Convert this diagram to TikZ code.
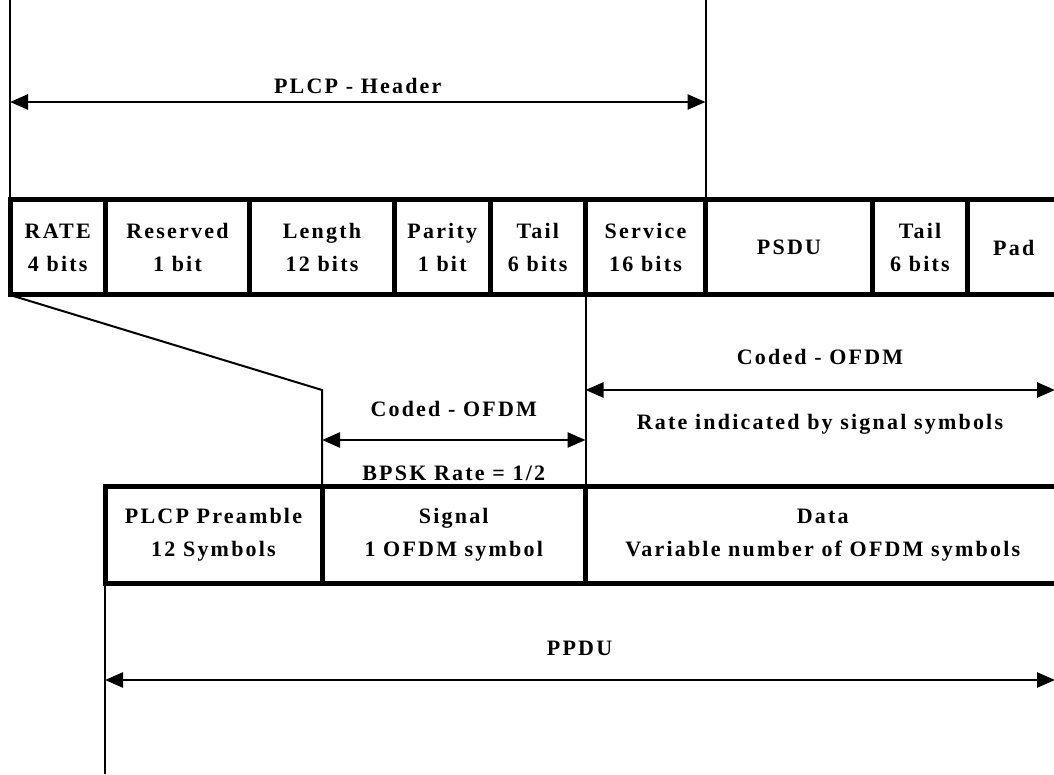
\documentclass[tikz,border=0pt]{standalone}
\usepackage{fontspec}
\setmainfont{Liberation Serif}[LetterSpace=10]
\usetikzlibrary{arrows.meta}

\newcommand{\fieldfont}{\fontsize{22}{33}\selectfont\bfseries}

\begin{document}
\begin{tikzpicture}[x=1pt,y=1pt,
  field/.style={draw=drawColor,line width=5pt,inner sep=0pt,outer sep=0pt,align=center,font=\fieldfont},
  toprow/.style={field,minimum height=95pt},
  lowrow/.style={field,minimum height=96pt},
  lbl/.style={text=drawColor,anchor=base,inner sep=0pt,outer sep=0pt,font=\fieldfont},
  marker/.style={draw=drawColor,line width=2pt},
  span/.style={draw=drawColor,line width=2.5pt,{Triangle[length=18pt,width=15pt]}-{Triangle[length=18pt,width=15pt]}}]
\definecolor{fillColor}{RGB}{255,255,255}
\definecolor{drawColor}{RGB}{0,0,0}
\path[use as bounding box,fill=fillColor] (0,0) rectangle (1054,774);
\begin{scope}
\path[clip] (0,0) rectangle (1054,774);

% PLCP header fields
\node[toprow,minimum width= 95.5pt] (rate)  at (  57.75,526.5) {RATE\\4 bits};
\node[toprow,minimum width=144.0pt] (rsvd)  at ( 177.50,526.5) {Reserved\\1 bit};
\node[toprow,minimum width=145.0pt] (len)   at ( 322.00,526.5) {Length\\12 bits};
\node[toprow,minimum width= 95.5pt] (par)   at ( 442.25,526.5) {Parity\\1 bit};
\node[toprow,minimum width= 95.5pt] (tail)  at ( 537.75,526.5) {Tail\\6 bits};
\node[toprow,minimum width=120.0pt] (svc)   at ( 645.50,526.5) {Service\\16 bits};
\node[toprow,minimum width=167.0pt] (psdu)  at ( 789.00,526.5) {PSDU};
\node[toprow,minimum width= 95.0pt] (tailb) at ( 920.00,526.5) {Tail\\6 bits};
\node[toprow,minimum width= 92.5pt] (pad)   at (1013.75,526.5) {Pad};

% PPDU fields
\node[lowrow,minimum width=217.0pt] (pre)  at (213.50,239) {PLCP Preamble\\12 Symbols};
\node[lowrow,minimum width=263.5pt] (sig)  at (453.75,239) {Signal\\1 OFDM symbol};
\node[lowrow,minimum width=474.5pt] (data) at (822.75,239) {Data\\Variable number of OFDM symbols};

% marker lines
\coordinate (hdrtopL) at (10,774);
\coordinate (hdrtopR) at (705.5,774);
\coordinate (bend) at (322,384);
\coordinate (ppdubot) at (105,0);
\path[marker] (rate.north west) -- (hdrtopL);
\path[marker] (svc.north east) -- (hdrtopR);
\path[marker] (rate.south west) -- (bend) -- (sig.north west);
\path[marker] (svc.south west) -- (data.north west);
\path[marker] (pre.south west) -- (ppdubot);

% spans
\coordinate (hdrL) at (10,672);
\coordinate (hdrR) at (705.5,672);
\coordinate (sigL) at (322,334);
\coordinate (sigR) at (585.5,334);
\coordinate (datL) at (585.5,384);
\coordinate (datR) at (1055,384);
\coordinate (ppduL) at (105,94);
\coordinate (ppduR) at (1055,94);
\path[span] (hdrL) -- (hdrR);
\path[span] (sigL) -- (sigR);
\path[span] (datL) -- (datR);
\path[span] (ppduL) -- (ppduR);

\node[lbl] (hdrtxt)  at (357.75,680) {PLCP - Header};
\node[lbl] (sigtop)  at (453.75,357) {Coded - OFDM};
\node[lbl] (sigbot)  at (453.75,293) {BPSK Rate = 1/2};
\node[lbl] (dattop)  at (820.00,409) {Coded - OFDM};
\node[lbl] (datbot)  at (820.00,344) {Rate indicated by signal symbols};
\node[lbl] (ppdutxt) at (579.50,119) {PPDU};
\end{scope}
\end{tikzpicture}
\end{document}
